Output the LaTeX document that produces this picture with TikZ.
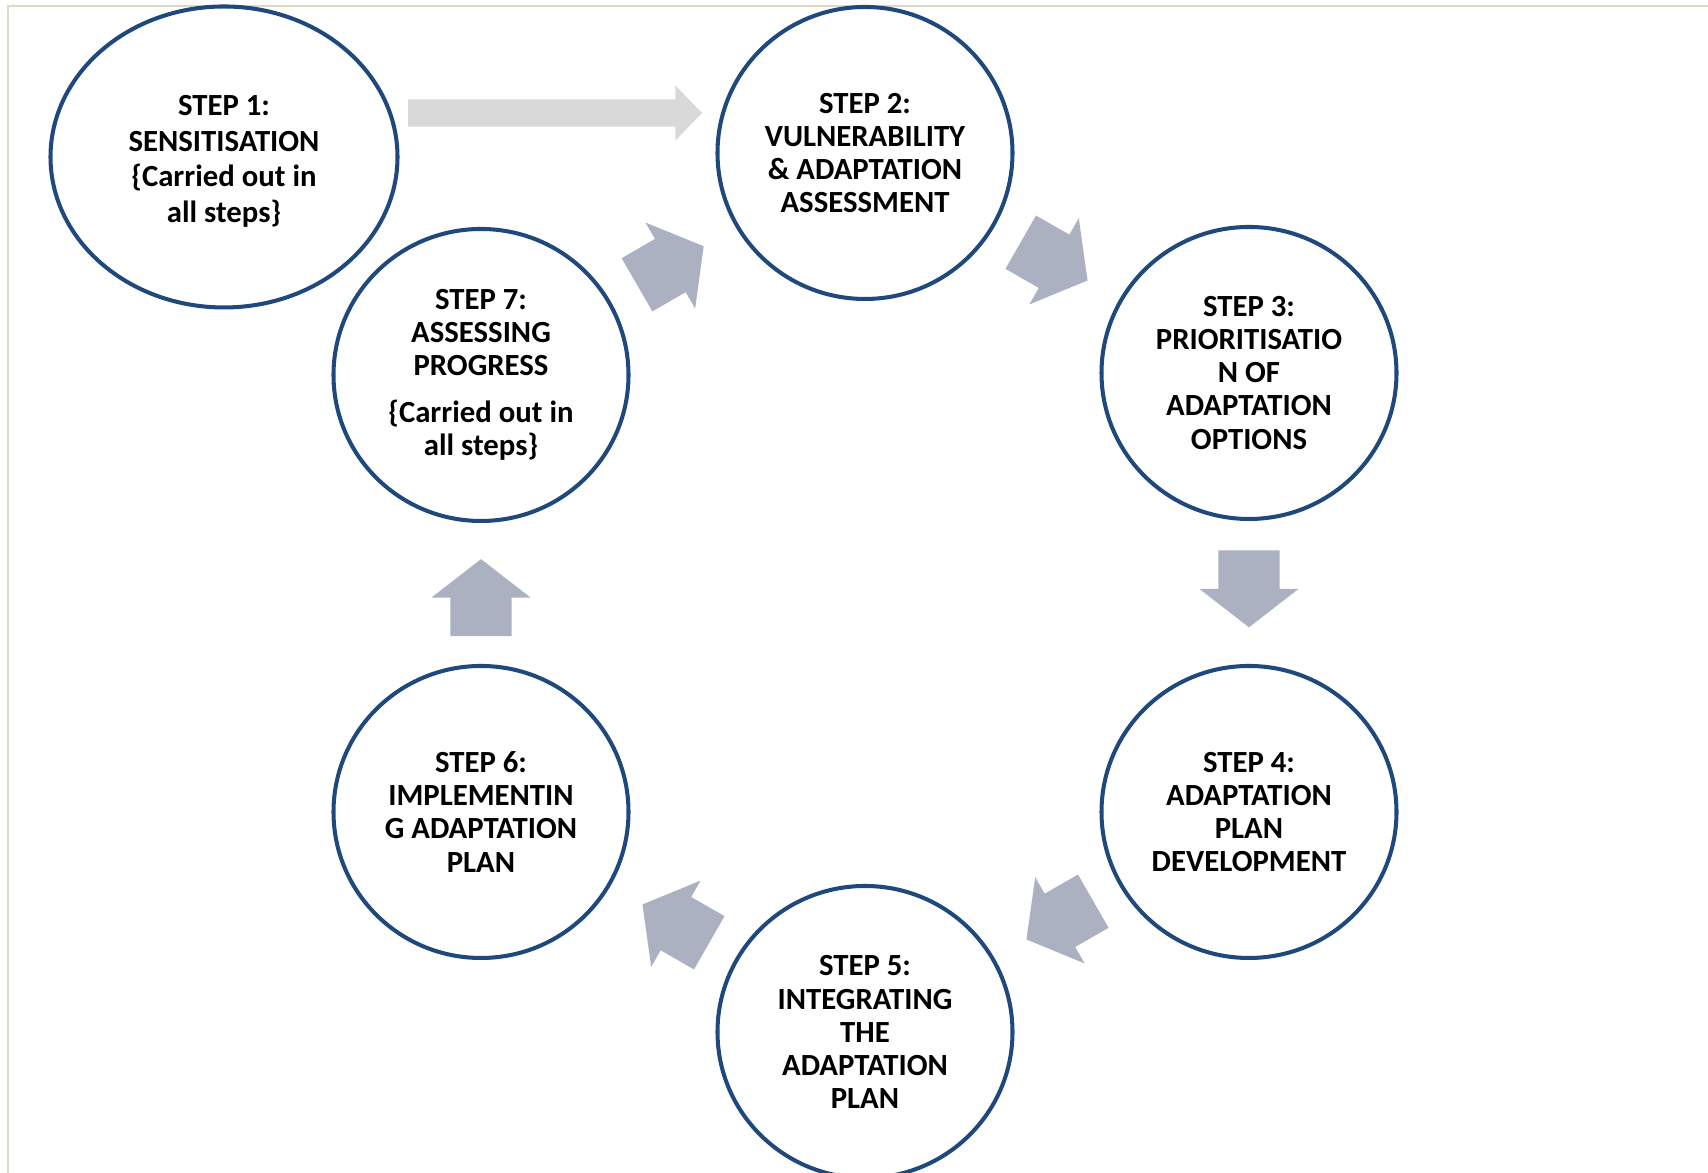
\documentclass[tikz,border=0pt]{standalone}
\usepackage{fontspec}
\setmainfont{Carlito}
\usetikzlibrary{shapes.geometric,shapes.arrows}
\definecolor{stepblue}{RGB}{31,73,125}
\definecolor{arrowgrey}{RGB}{172,177,194}
\definecolor{lightgrey}{RGB}{217,217,217}
\definecolor{framebeige}{RGB}{221,217,195}
\begin{document}
\begin{tikzpicture}[
  stepnode/.style={draw=stepblue, line width=1.15pt, ellipse, inner sep=0pt,
    minimum width=2.95cm, minimum height=2.92cm, align=center,
    font=\bfseries\fontsize{8.75}{9.4}\selectfont},
  blockarrow/.style={single arrow, fill=arrowgrey, inner xsep=0pt, inner ysep=0.3cm,
    single arrow head extend=0.19cm, single arrow tip angle=104.4,
    minimum height=0.77cm, anchor=tip}]
\useasboundingbox (0,0) rectangle (17.08,11.73);
\draw[framebeige, line width=0.6pt] (0.08,-0.1) |- (17.2,11.67);

\node[stepnode, minimum width=3.47cm, minimum height=3.01cm,
  font=\bfseries\fontsize{8.75}{10.2}\selectfont] (1) at (2.24,10.16)
  {\rule{0pt}{0.29cm}STEP 1:\\SENSITISATION\\\{Carried out in\\all steps\}};
\node[stepnode] (2) at (8.65,10.20) {STEP 2:\\VULNERABILITY\\\& ADAPTATION\\ASSESSMENT};
\node[stepnode] (3) at (12.49,8.00) {STEP 3:\\PRIORITISATIO\\N OF\\ADAPTATION\\OPTIONS};
\node[stepnode] (4) at (12.49,3.61) {STEP 4:\\ADAPTATION\\PLAN\\DEVELOPMENT};
\node[stepnode] (5) at (8.65,1.41) {STEP 5:\\INTEGRATING\\THE\\ADAPTATION\\PLAN};
\node[stepnode] (6) at (4.81,3.61) {STEP 6:\\IMPLEMENTIN\\G ADAPTATION\\PLAN};
\node[stepnode] (7) at (4.81,7.98) {STEP 7:\\ASSESSING\\PROGRESS\\[4pt]\{Carried out in\\all steps\}};

% sensitisation feeds step 2
\node[single arrow, fill=lightgrey, inner xsep=0pt, inner ysep=0.13cm,
  single arrow head extend=0.14cm, single arrow tip angle=92,
  minimum height=2.94cm, anchor=tip] (a12) at (7.03,10.60) {};

% the cycle
\path (7) -- (2) node[pos=.75, sloped, allow upside down, blockarrow] (a72) {};
\path (2) -- (3) node[pos=.75, sloped, allow upside down, blockarrow] (a23) {};
\path (3) -- (4) node[pos=.75, sloped, allow upside down, blockarrow] (a34) {};
\path (4) -- (5) node[pos=.75, sloped, allow upside down, blockarrow] (a45) {};
\path (5) -- (6) node[pos=.75, sloped, allow upside down, blockarrow] (a56) {};
\path (6) -- (7) node[pos=.75, sloped, allow upside down, blockarrow] (a67) {};
\end{tikzpicture}
\end{document}
